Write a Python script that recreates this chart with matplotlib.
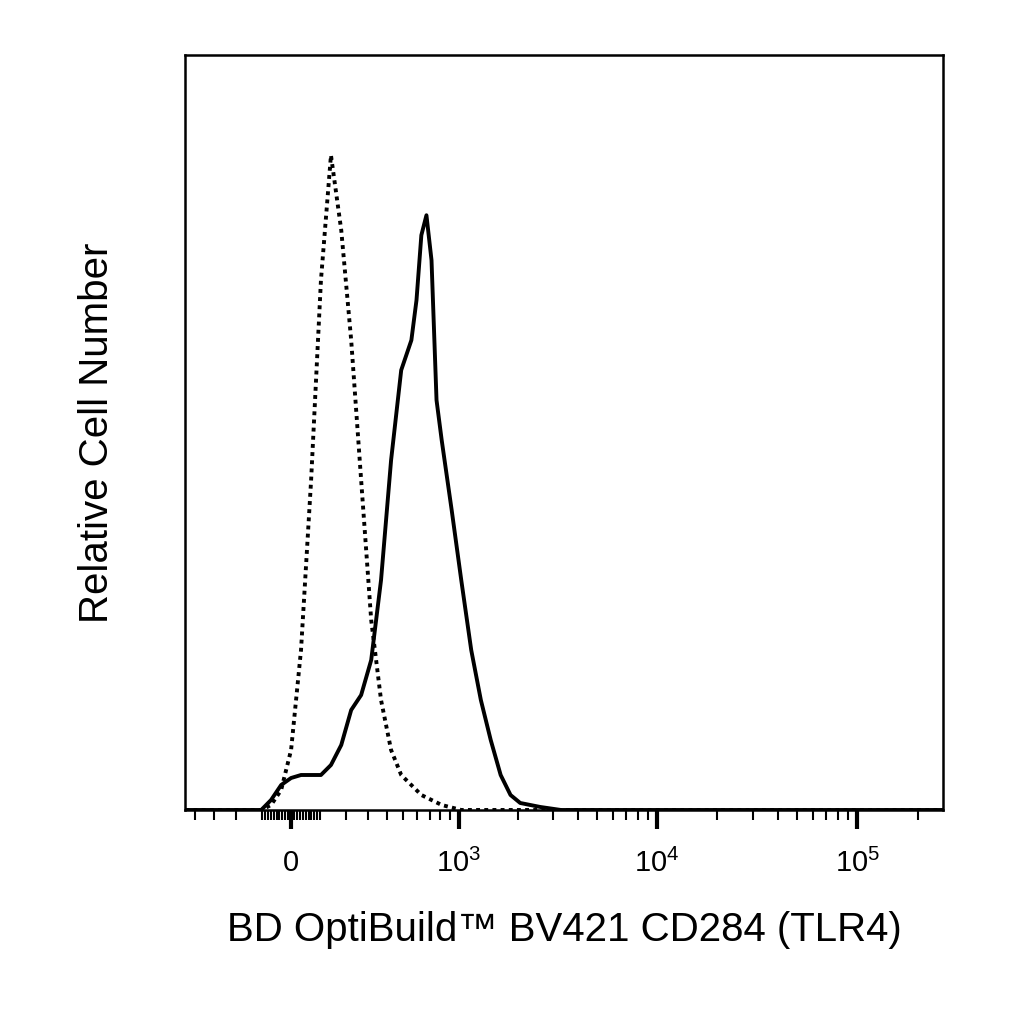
import numpy as np
import matplotlib
matplotlib.use("Agg")
import matplotlib.pyplot as plt
from matplotlib.scale import FuncScale

plt.rcParams['font.family'] = ['Liberation Sans', 'DejaVu Sans']
plt.rcParams['mathtext.fontset'] = 'custom'
plt.rcParams['mathtext.rm'] = 'Liberation Sans'

W = 297.0
iso_x = [-457, -104, -69, -34, 0, 34, 69, 104, 141, 181, 222, 266, 314, 365, 422, 485, 631, 813, 1030, 268000]
iso_y = [0, 0, 5, 20, 60, 160, 330, 530, 655, 580, 470, 330, 190, 110, 60, 35, 15, 5, 0, 0]
stain_x = [-457, -104, -69, -34, 0, 34, 104, 141, 181, 222, 266, 314, 365, 422, 485, 555, 593, 631, 673, 717, 763,
           813, 918, 1030, 1160, 1300, 1460, 1640, 1840, 2060, 2600, 3300, 268000]
stain_y = [0, 0, 10, 25, 32, 35, 35, 45, 65, 100, 115, 150, 230, 350, 440, 470, 510, 575, 595, 550, 410,
           370, 300, 230, 160, 110, 70, 35, 15, 7, 3, 0, 0]
major_ticks = [0, 1e3, 1e4, 1e5]
major_labels = ["0", r"$\mathrm{10}^{\mathrm{3}}$", r"$\mathrm{10}^{\mathrm{4}}$", r"$\mathrm{10}^{\mathrm{5}}$"]

fig = plt.figure(figsize=(10.24, 10.24), dpi=100)
ax = fig.add_axes([0.181, 0.209, 0.74, 0.737])
ax.set_xscale(FuncScale(ax, (lambda x: np.arcsinh(np.asarray(x) / W), lambda u: W * np.sinh(u))))
ax.plot(iso_x, iso_y, color="black", lw=2.8, ls=(0, (1, 1.1)))
ax.plot(stain_x, stain_y, color="black", lw=2.8)
ax.set_xlim(-457, 268000)
ax.set_ylim(0, 755)
ax.set_yticks([])
minors = []
for d in [10, 100, 1000, 10000, 100000]:
    for k in range(2, 10):
        v = k * d
        if v < 268000:
            minors.append(v)
minors += [-v for v in [20, 30, 40, 50, 60, 70, 80, 90, 100, 200, 300, 400]] + [10, 100, -10]
ax.set_xticks(minors, minor=True)
ax.set_xticks(major_ticks)
ax.set_xticklabels(major_labels, fontsize=21)
ax.tick_params(axis="x", which="major", length=14, width=3, pad=14)
ax.tick_params(axis="x", which="minor", length=7, width=1.5)
for s in ax.spines.values():
    s.set_linewidth(1.8)
ax.set_ylabel("Relative Cell Number", fontsize=29, labelpad=50)
ax.set_xlabel("BD OptiBuild™ BV421 CD284 (TLR4)", fontsize=29, labelpad=24)
fig.savefig("out.png", dpi=100, facecolor="white")
